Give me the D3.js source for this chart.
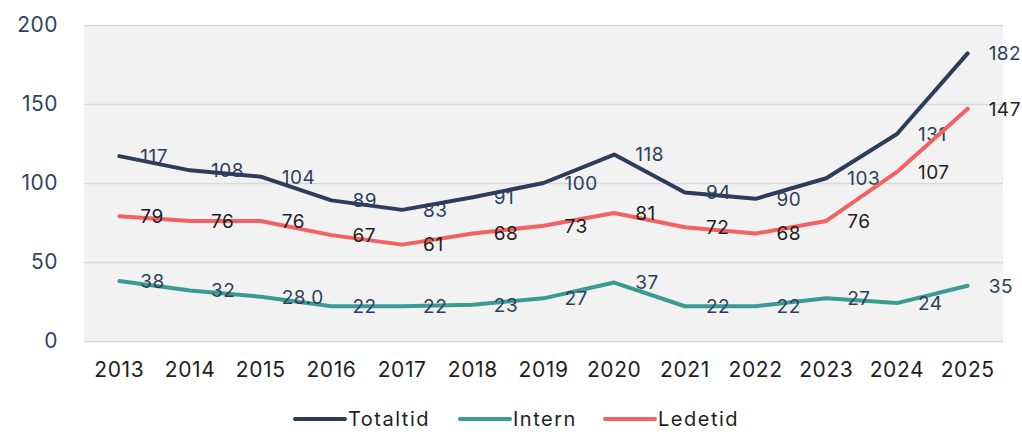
<!DOCTYPE html>
<html>
<head>
<meta charset="utf-8">
<script src="https://cdn.jsdelivr.net/npm/d3@7"></script>
<style>
  body { margin: 0; background: #fff; }
  text { font-family: Inter, "Open Sans", sans-serif; }
</style>
</head>
<body>
<div id="svgcontainer"></div>
<script>
var years = ["2013","2014","2015","2016","2017","2018","2019","2020","2021","2022","2023","2024","2025"];
var totaltid = [117,108,104,89,83,91,100,118,94,90,103,131,182];
var intern = [38,32,28,22,22,23,27,37,22,22,27,24,35];
var internLabels = ["38","32","28.0","22","22","23","27","37","22","22","27","24","35"];
var ledetid = [79,76,76,67,61,68,73,81,72,68,76,107,147];
var yTicks = [0,50,100,150,200];

var series = [
  {label: "Totaltid", values: totaltid, texts: totaltid.map(String), color: "#2b3d5b", textColor: "#2d3e5a"},
  {label: "Intern", values: intern, texts: internLabels, color: "#3a9a94", textColor: "#2d3e5a"},
  {label: "Ledetid", values: ledetid, texts: ledetid.map(String), color: "#f26262", textColor: "#1e1e1e"}
];

var W = 1022, H = 432,
    plot = {left: 84, right: 1003, top: 25, bottom: 341};

var svg = d3.select("div#svgcontainer")
    .append("svg")
    .attr("width", W)
    .attr("height", H);

var x = d3.scaleBand().domain(years).range([plot.left, plot.right]);
var y = d3.scaleLinear().domain([0, 200]).range([plot.bottom, plot.top]);

// plot background
svg.append("rect")
    .attr("x", plot.left)
    .attr("y", plot.top)
    .attr("width", plot.right - plot.left)
    .attr("height", plot.bottom - plot.top)
    .style("fill", "#f2f2f2");

// grid
svg.append("g")
  .selectAll("line")
  .data(yTicks)
  .enter().append("line")
    .attr("x1", plot.left)
    .attr("x2", plot.right)
    .attr("y1", function(d){ return y(d) + 0.5 })
    .attr("y2", function(d){ return y(d) + 0.5 })
    .style("stroke", "#d9d9d9")
    .style("stroke-width", 1.5);

// y labels
var yAxis = svg.append("g")
    .attr("transform", "translate(" + 66 + ",0)")
    .call(d3.axisLeft(y).tickValues(yTicks).tickSize(0).tickPadding(8));
yAxis.select(".domain").remove();
yAxis.selectAll("text")
    .style("font-size", "21px")
    .style("font-family", "Inter, 'Open Sans', sans-serif")
    .style("letter-spacing", "0.5px")
    .style("fill", "#33435f");

// x labels
var xAxis = svg.append("g")
    .attr("transform", "translate(0," + 362 + ")")
    .call(d3.axisBottom(x).tickSize(0).tickPadding(0));
xAxis.select(".domain").remove();
xAxis.selectAll("text")
    .style("font-size", "21px")
    .style("font-family", "Inter, 'Open Sans', sans-serif")
    .style("letter-spacing", "0.6px")
    .style("fill", "#1e1e1e");

var line = d3.line()
    .x(function(d, i){ return x(years[i]) + x.bandwidth() / 2 })
    .y(function(d){ return y(d) });

var seq = svg.selectAll(".seq")
    .data(series)
    .enter().append("g")
    .attr("class", "seq");

seq.append("path")
    .attr("d", function(s){ return line(s.values) })
    .style("fill", "none")
    .style("stroke", function(s){ return s.color })
    .style("stroke-width", 4)
    .style("stroke-linejoin", "round")
    .style("stroke-linecap", "round");

seq.selectAll("text.lbl")
    .data(function(s){ return s.values.map(function(v, i){ return {v: v, i: i, t: s.texts[i], c: s.textColor} }) })
    .enter().append("text")
    .attr("class", "lbl")
    .attr("x", function(d){ return x(years[d.i]) + x.bandwidth() / 2 + 21 })
    .attr("y", function(d){ return y(d.v) })
    .attr("dy", "0.36em")
    .style("font-size", "19px")
    .style("letter-spacing", "0.5px")
    .style("fill", function(d){ return d.c })
    .text(function(d){ return d.t });

// legend
var legendX = [295, 460, 605];
var leg = svg.selectAll(".legend")
    .data(series)
    .enter().append("g")
    .attr("class", "legend")
    .attr("transform", function(d, i){ return "translate(" + legendX[i] + ",419)" });
leg.append("line")
    .attr("x1", 0).attr("x2", 50)
    .style("stroke", function(d){ return d.color })
    .style("stroke-width", 4)
    .style("stroke-linecap", "round");
leg.append("text")
    .attr("x", 53)
    .attr("dy", "0.36em")
    .style("font-size", "20px")
    .style("letter-spacing", "1.5px")
    .style("fill", "#1e1e1e")
    .text(function(d){ return d.label });
</script>
</body>
</html>
